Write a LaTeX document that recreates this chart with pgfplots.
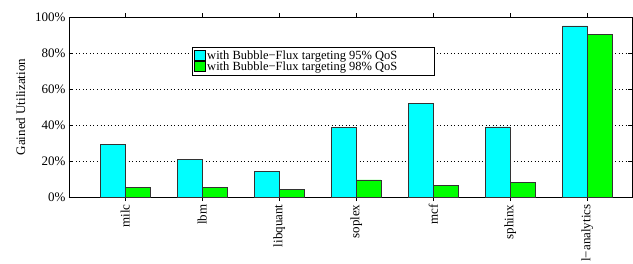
\documentclass[border=0pt]{standalone}
\usepackage{pgfplots}
\pgfplotsset{compat=1.18}
\usepackage{fontspec}
\setmainfont{Liberation Serif}
\definecolor{barcyan}{RGB}{0,255,255}
\definecolor{bargreen}{RGB}{0,255,0}
\begin{document}
\begin{tikzpicture}[x=1pt,y=1pt]
\begin{axis}[
  scale only axis,
  width=563pt, height=180pt,
  xmin=-0.73, xmax=6.58,
  ymin=0, ymax=100,
  ytick={0,20,40,60,80,100},
  yticklabel={\pgfmathprintnumber{\tick}\%},
  /pgf/number format/assume math mode=true,
  xtick={0,1,2,3,4,5,6},
  xticklabels={milc,lbm,libquant,soplex,mcf,sphinx,l−analytics},
  x tick label style={rotate=90, anchor=east, font=\fontsize{13}{15}\selectfont},
  y tick label style={font=\fontsize{13}{15}\selectfont},
  ylabel={Gained Utilization},
  ylabel shift=3pt,
  ylabel style={font=\fontsize{13}{15}\selectfont},
  ymajorgrids,
  grid style={black, dash pattern=on 1pt off 2.5pt, line width=0.6pt},
  major tick length=4pt,
  tick style={black, line width=0.6pt},
  axis line style={black, line width=0.8pt},
  ybar, bar width=0.32,
  legend style={at={(0.218,0.833)}, anchor=north west, draw=black, fill=white,
    line width=0.8pt,
    font=\fontsize{12.5}{13}\selectfont, row sep=-3pt, inner sep=1.5pt,
    legend cell align=left},
  legend image code/.code={\draw[#1, draw=black, line width=0.6pt] (0pt,-4pt) rectangle (11pt,6pt);},
]
\addplot[fill=barcyan, draw=black!80, line width=0.6pt, bar shift=-0.16] coordinates {
 (0,29.2) (1,20.7) (2,14.4) (3,38.5) (4,52.1) (5,38.9) (6,95.1)};
\addlegendentry{with Bubble−Flux targeting 95\% QoS\hspace*{34pt}}
\addplot[fill=bargreen, draw=black!80, line width=0.6pt, bar shift=0.16] coordinates {
 (0,5.2) (1,5.2) (2,4.3) (3,9.5) (4,6.3) (5,8.0) (6,90.5)};
\addlegendentry{with Bubble−Flux targeting 98\% QoS\hspace*{34pt}}
\end{axis}
\pgfresetboundingbox
\path ([xshift=-69pt,yshift=-66pt]current axis.south west) rectangle ([xshift=1pt,yshift=17pt]current axis.north east);
\end{tikzpicture}
\end{document}
